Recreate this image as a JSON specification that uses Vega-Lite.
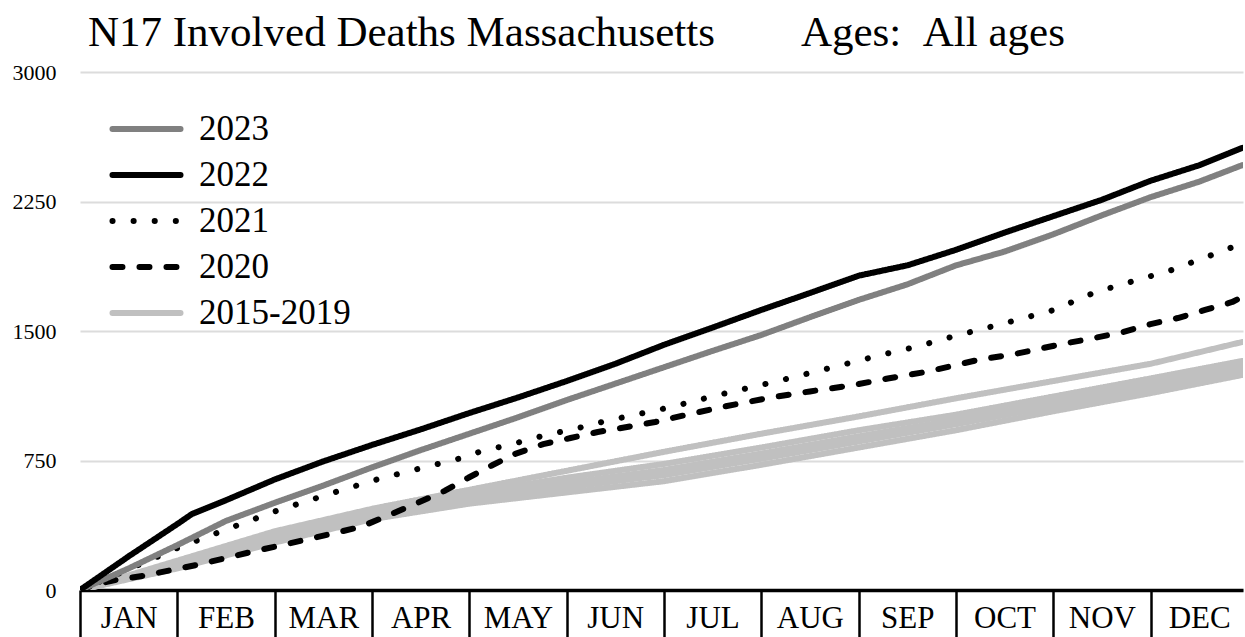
{
 "$schema": "https://vega.github.io/schema/vega-lite/v6.json",
 "width": 1163,
 "height": 518,
 "autosize": {"type": "none"},
 "padding": {"left": 80, "top": 72, "right": 2, "bottom": 47},
 "background": "white",
 "title": {"text": "N17 Involved Deaths Massachusetts\u00a0\u00a0\u00a0\u00a0\u00a0\u00a0\u00a0\u00a0Ages:\u00a0\u00a0All ages", "anchor": "start", "frame": "group", "dx": 8, "dy": 53, "offset": 25, "baseline": "alphabetic", "font": "Liberation Serif", "fontSize": 43, "fontWeight": "normal", "color": "black"},
 "config": {"view": {"stroke": null}},
 "data": {"values": [
  {"series":"2015-2019","line":"2017","m":0,"v":0},{"series":"2015-2019","line":"2017","m":1,"v":170},{"series":"2015-2019","line":"2017","m":2,"v":340},{"series":"2015-2019","line":"2017","m":3,"v":470},{"series":"2015-2019","line":"2017","m":4,"v":580},{"series":"2015-2019","line":"2017","m":5,"v":690},{"series":"2015-2019","line":"2017","m":6,"v":800},{"series":"2015-2019","line":"2017","m":7,"v":905},{"series":"2015-2019","line":"2017","m":8,"v":1005},{"series":"2015-2019","line":"2017","m":9,"v":1110},{"series":"2015-2019","line":"2017","m":10,"v":1210},{"series":"2015-2019","line":"2017","m":11,"v":1310},{"series":"2015-2019","line":"2017","m":11.94,"v":1436},
  {"series":"2015-2019","line":"2018","m":0,"v":0},{"series":"2015-2019","line":"2018","m":1,"v":155},{"series":"2015-2019","line":"2018","m":2,"v":320},{"series":"2015-2019","line":"2018","m":3,"v":455},{"series":"2015-2019","line":"2018","m":4,"v":560},{"series":"2015-2019","line":"2018","m":5,"v":650},{"series":"2015-2019","line":"2018","m":6,"v":730},{"series":"2015-2019","line":"2018","m":7,"v":825},{"series":"2015-2019","line":"2018","m":8,"v":925},{"series":"2015-2019","line":"2018","m":9,"v":1015},{"series":"2015-2019","line":"2018","m":10,"v":1120},{"series":"2015-2019","line":"2018","m":11,"v":1225},{"series":"2015-2019","line":"2018","m":11.94,"v":1326},
  {"series":"2015-2019","line":"2019","m":0,"v":0},{"series":"2015-2019","line":"2019","m":1,"v":145},{"series":"2015-2019","line":"2019","m":2,"v":305},{"series":"2015-2019","line":"2019","m":3,"v":440},{"series":"2015-2019","line":"2019","m":4,"v":540},{"series":"2015-2019","line":"2019","m":5,"v":620},{"series":"2015-2019","line":"2019","m":6,"v":695},{"series":"2015-2019","line":"2019","m":7,"v":790},{"series":"2015-2019","line":"2019","m":8,"v":890},{"series":"2015-2019","line":"2019","m":9,"v":985},{"series":"2015-2019","line":"2019","m":10,"v":1090},{"series":"2015-2019","line":"2019","m":11,"v":1195},{"series":"2015-2019","line":"2019","m":11.94,"v":1300},
  {"series":"2015-2019","line":"2016","m":0,"v":0},{"series":"2015-2019","line":"2016","m":1,"v":135},{"series":"2015-2019","line":"2016","m":2,"v":290},{"series":"2015-2019","line":"2016","m":3,"v":425},{"series":"2015-2019","line":"2016","m":4,"v":520},{"series":"2015-2019","line":"2016","m":5,"v":595},{"series":"2015-2019","line":"2016","m":6,"v":665},{"series":"2015-2019","line":"2016","m":7,"v":760},{"series":"2015-2019","line":"2016","m":8,"v":860},{"series":"2015-2019","line":"2016","m":9,"v":960},{"series":"2015-2019","line":"2016","m":10,"v":1065},{"series":"2015-2019","line":"2016","m":11,"v":1170},{"series":"2015-2019","line":"2016","m":11.94,"v":1272},
  {"series":"2015-2019","line":"2015","m":0,"v":0},{"series":"2015-2019","line":"2015","m":1,"v":125},{"series":"2015-2019","line":"2015","m":2,"v":275},{"series":"2015-2019","line":"2015","m":3,"v":410},{"series":"2015-2019","line":"2015","m":4,"v":500},{"series":"2015-2019","line":"2015","m":5,"v":565},{"series":"2015-2019","line":"2015","m":6,"v":630},{"series":"2015-2019","line":"2015","m":7,"v":725},{"series":"2015-2019","line":"2015","m":8,"v":825},{"series":"2015-2019","line":"2015","m":9,"v":925},{"series":"2015-2019","line":"2015","m":10,"v":1035},{"series":"2015-2019","line":"2015","m":11,"v":1140},{"series":"2015-2019","line":"2015","m":11.94,"v":1245},
  {"series":"2020","line":"2020","m":0,"v":0},{"series":"2020","line":"2020","m":0.15,"v":30},{"series":"2020","line":"2020","m":0.36,"v":58},{"series":"2020","line":"2020","m":0.64,"v":81},{"series":"2020","line":"2020","m":1.2,"v":145},{"series":"2020","line":"2020","m":1.77,"v":222},{"series":"2020","line":"2020","m":2.35,"v":295},{"series":"2020","line":"2020","m":2.88,"v":365},{"series":"2020","line":"2020","m":3.13,"v":423},{"series":"2020","line":"2020","m":3.47,"v":505},{"series":"2020","line":"2020","m":3.75,"v":575},{"series":"2020","line":"2020","m":3.99,"v":650},{"series":"2020","line":"2020","m":4.24,"v":724},{"series":"2020","line":"2020","m":4.47,"v":788},{"series":"2020","line":"2020","m":4.76,"v":845},{"series":"2020","line":"2020","m":5.04,"v":880},{"series":"2020","line":"2020","m":5.32,"v":915},{"series":"2020","line":"2020","m":5.62,"v":944},{"series":"2020","line":"2020","m":5.91,"v":973},{"series":"2020","line":"2020","m":6.22,"v":1013},{"series":"2020","line":"2020","m":6.6,"v":1060},{"series":"2020","line":"2020","m":7.07,"v":1112},{"series":"2020","line":"2020","m":7.5,"v":1150},{"series":"2020","line":"2020","m":7.95,"v":1187},{"series":"2020","line":"2020","m":8.3,"v":1225},{"series":"2020","line":"2020","m":8.69,"v":1263},{"series":"2020","line":"2020","m":8.98,"v":1300},{"series":"2020","line":"2020","m":9.27,"v":1338},{"series":"2020","line":"2020","m":9.56,"v":1361},{"series":"2020","line":"2020","m":9.85,"v":1396},{"series":"2020","line":"2020","m":10.14,"v":1430},{"series":"2020","line":"2020","m":10.42,"v":1459},{"series":"2020","line":"2020","m":10.72,"v":1494},{"series":"2020","line":"2020","m":11.0,"v":1540},{"series":"2020","line":"2020","m":11.28,"v":1575},{"series":"2020","line":"2020","m":11.56,"v":1622},{"series":"2020","line":"2020","m":11.84,"v":1668},{"series":"2020","line":"2020","m":11.95,"v":1700},
  {"series":"2021","line":"2021","m":0,"v":0},{"series":"2021","line":"2021","m":0.5,"v":120},{"series":"2021","line":"2021","m":1,"v":243},{"series":"2021","line":"2021","m":1.5,"v":350},{"series":"2021","line":"2021","m":2,"v":455},{"series":"2021","line":"2021","m":2.5,"v":545},{"series":"2021","line":"2021","m":2.89,"v":613},{"series":"2021","line":"2021","m":3.1,"v":648},{"series":"2021","line":"2021","m":3.5,"v":705},{"series":"2021","line":"2021","m":3.96,"v":770},{"series":"2021","line":"2021","m":4.15,"v":810},{"series":"2021","line":"2021","m":4.37,"v":834},{"series":"2021","line":"2021","m":4.79,"v":898},{"series":"2021","line":"2021","m":5.1,"v":935},{"series":"2021","line":"2021","m":5.44,"v":984},{"series":"2021","line":"2021","m":5.75,"v":1020},{"series":"2021","line":"2021","m":6.06,"v":1058},{"series":"2021","line":"2021","m":6.6,"v":1135},{"series":"2021","line":"2021","m":7.17,"v":1210},{"series":"2021","line":"2021","m":7.7,"v":1285},{"series":"2021","line":"2021","m":8.23,"v":1361},{"series":"2021","line":"2021","m":8.6,"v":1410},{"series":"2021","line":"2021","m":8.97,"v":1468},{"series":"2021","line":"2021","m":9.5,"v":1545},{"series":"2021","line":"2021","m":10.04,"v":1627},{"series":"2021","line":"2021","m":10.24,"v":1680},{"series":"2021","line":"2021","m":10.44,"v":1726},{"series":"2021","line":"2021","m":10.86,"v":1795},{"series":"2021","line":"2021","m":11.2,"v":1850},{"series":"2021","line":"2021","m":11.49,"v":1911},{"series":"2021","line":"2021","m":11.9,"v":1998},
  {"series":"2023","line":"2023","m":0,"v":0},{"series":"2023","line":"2023","m":0.5,"v":125},{"series":"2023","line":"2023","m":1,"v":260},{"series":"2023","line":"2023","m":1.5,"v":400},{"series":"2023","line":"2023","m":2,"v":505},{"series":"2023","line":"2023","m":2.5,"v":605},{"series":"2023","line":"2023","m":3,"v":710},{"series":"2023","line":"2023","m":3.5,"v":810},{"series":"2023","line":"2023","m":4,"v":905},{"series":"2023","line":"2023","m":4.5,"v":1000},{"series":"2023","line":"2023","m":5,"v":1100},{"series":"2023","line":"2023","m":5.5,"v":1195},{"series":"2023","line":"2023","m":6,"v":1290},{"series":"2023","line":"2023","m":6.5,"v":1385},{"series":"2023","line":"2023","m":7,"v":1477},{"series":"2023","line":"2023","m":7.5,"v":1580},{"series":"2023","line":"2023","m":8,"v":1680},{"series":"2023","line":"2023","m":8.5,"v":1770},{"series":"2023","line":"2023","m":9,"v":1880},{"series":"2023","line":"2023","m":9.5,"v":1960},{"series":"2023","line":"2023","m":10,"v":2060},{"series":"2023","line":"2023","m":10.5,"v":2170},{"series":"2023","line":"2023","m":11,"v":2275},{"series":"2023","line":"2023","m":11.5,"v":2365},{"series":"2023","line":"2023","m":11.94,"v":2460},
  {"series":"2022","line":"2022","m":0,"v":0},{"series":"2022","line":"2022","m":0.5,"v":195},{"series":"2022","line":"2022","m":1,"v":382},{"series":"2022","line":"2022","m":1.15,"v":440},{"series":"2022","line":"2022","m":1.5,"v":520},{"series":"2022","line":"2022","m":2,"v":640},{"series":"2022","line":"2022","m":2.5,"v":745},{"series":"2022","line":"2022","m":3,"v":840},{"series":"2022","line":"2022","m":3.5,"v":930},{"series":"2022","line":"2022","m":4,"v":1025},{"series":"2022","line":"2022","m":4.5,"v":1115},{"series":"2022","line":"2022","m":5,"v":1210},{"series":"2022","line":"2022","m":5.5,"v":1310},{"series":"2022","line":"2022","m":6,"v":1420},{"series":"2022","line":"2022","m":6.5,"v":1520},{"series":"2022","line":"2022","m":7,"v":1622},{"series":"2022","line":"2022","m":7.5,"v":1720},{"series":"2022","line":"2022","m":8,"v":1820},{"series":"2022","line":"2022","m":8.5,"v":1880},{"series":"2022","line":"2022","m":9,"v":1970},{"series":"2022","line":"2022","m":9.5,"v":2070},{"series":"2022","line":"2022","m":10,"v":2165},{"series":"2022","line":"2022","m":10.5,"v":2260},{"series":"2022","line":"2022","m":11,"v":2370},{"series":"2022","line":"2022","m":11.5,"v":2460},{"series":"2022","line":"2022","m":11.94,"v":2560}
 ]},
 "mark": {"type": "line", "strokeCap": "round", "strokeJoin": "round", "clip": true},
 "encoding": {
  "x": {"field": "m", "type": "quantitative", "scale": {"domain": [0, 11.95], "nice": false, "zero": false},
   "axis": {"values": [0,1,2,3,4,5,6,7,8,9,10,11], "labelExpr": "['JAN','FEB','MAR','APR','MAY','JUN','JUL','AUG','SEP','OCT','NOV','DEC'][datum.value]", "title": null, "grid": false, "domainColor": "black", "domainWidth": 3.5, "tickColor": "black", "tickWidth": 2.5, "tickSize": 50, "labelOffset": 48.6, "labelAlign": "center", "labelBaseline": "top", "labelPadding": -37, "labelFont": "Liberation Serif", "labelFontSize": 31, "labelColor": "black", "labelFlush": false, "labelOverlap": false, "labelBound": false}},
  "y": {"field": "v", "type": "quantitative", "scale": {"domain": [0, 3000], "nice": false},
   "axis": {"values": [0,750,1500,2250,3000], "title": null, "domain": false, "ticks": false, "grid": true, "gridColor": "#dcdcdc", "gridWidth": 2, "labelFont": "Liberation Serif", "labelFontSize": 22, "labelColor": "black", "labelPadding": 24, "format": "d"}},
  "detail": {"field": "line", "type": "nominal"},
  "color": {"field": "series", "type": "nominal", "scale": {"domain": ["2023","2022","2021","2020","2015-2019"], "range": ["#808080","#000000","#000000","#000000","#c0c0c0"]},
   "legend": {"title": null, "orient": "none", "legendX": 48.5, "legendY": 39, "symbolType": "M-2.33,0H2.33", "symbolSize": 853, "labelFont": "Liberation Serif", "labelFontSize": 35, "labelColor": "black", "labelOffset": 34.5, "rowPadding": 10, "padding": 0, "labelLimit": 400,
    "encode": {"symbols": {"update": {"strokeCap": {"value": "round"}, "fill": {"value": "transparent"}}}}}},
  "strokeDash": {"field": "series", "type": "nominal", "scale": {"domain": ["2023","2022","2021","2020","2015-2019"], "range": [[1,0],[1,0],[0.1,21],[10,17],[1,0]]}},
  "strokeWidth": {"field": "series", "type": "nominal", "scale": {"domain": ["2023","2022","2021","2020","2015-2019"], "range": [6,6,8,7,7]}}
 }
}
